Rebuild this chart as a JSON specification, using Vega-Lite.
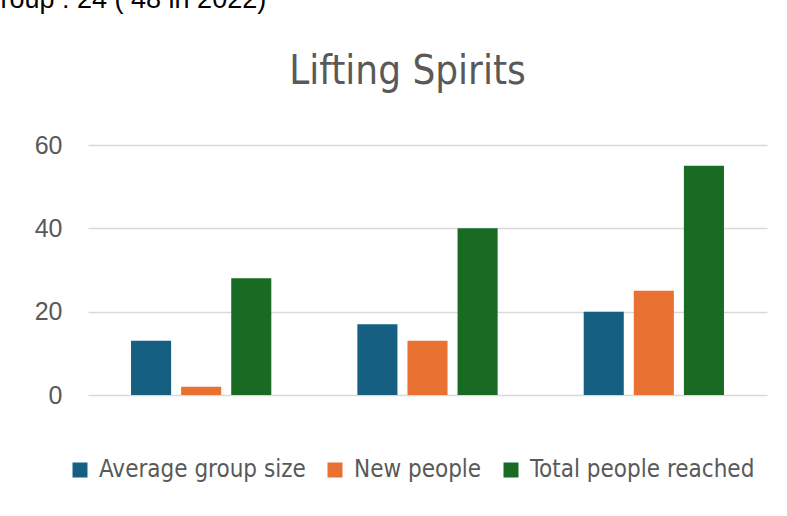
{
  "$schema": "https://vega.github.io/schema/vega-lite/v6.json",
  "autosize": {"type": "none"},
  "width": 679,
  "height": 250,
  "padding": {"left": 88, "top": 145, "right": 20, "bottom": 121},
  "background": "white",
  "title": {
    "text": "Lifting Spirits",
    "anchor": "middle",
    "font": "Liberation Sans Narrow, DejaVu Sans Condensed, Roboto",
    "fontSize": 40,
    "fontWeight": "normal",
    "color": "#595959",
    "baseline": "alphabetic",
    "offset": -139,
    "dx": -20
  },
  "data": {
    "values": [
      {"group": "Group 1", "series": "Average group size", "value": 13},
      {"group": "Group 1", "series": "New people", "value": 2},
      {"group": "Group 1", "series": "Total people reached", "value": 28},
      {"group": "Group 2", "series": "Average group size", "value": 17},
      {"group": "Group 2", "series": "New people", "value": 13},
      {"group": "Group 2", "series": "Total people reached", "value": 40},
      {"group": "Group 3", "series": "Average group size", "value": 20},
      {"group": "Group 3", "series": "New people", "value": 25},
      {"group": "Group 3", "series": "Total people reached", "value": 55}
    ]
  },
  "mark": {"type": "bar"},
  "encoding": {
    "x": {
      "field": "group",
      "type": "nominal",
      "axis": null,
      "scale": {"paddingInner": 0.336, "paddingOuter": 0.168}
    },
    "xOffset": {
      "field": "series",
      "type": "nominal",
      "scale": {"paddingInner": 0.2, "paddingOuter": 0.1}
    },
    "y": {
      "field": "value",
      "type": "quantitative",
      "scale": {"domain": [0, 60], "nice": false},
      "axis": {
        "title": "roup : 24 ( 48 in 2022)",
        "titleAngle": 0,
        "titleX": -88,
        "titleY": -138,
        "titleAlign": "left",
        "titleBaseline": "alphabetic",
        "titleFont": "Liberation Sans",
        "titleFontSize": 27,
        "titleFontWeight": "normal",
        "titleColor": "#000000",
        "values": [0, 20, 40, 60],
        "domain": false,
        "ticks": false,
        "grid": true,
        "gridColor": "#D9D9D9",
        "gridWidth": 1.5,
        "labelFont": "Liberation Sans",
        "labelFontSize": 25,
        "labelColor": "#595959",
        "labelPadding": 26
      }
    },
    "color": {
      "field": "series",
      "type": "nominal",
      "scale": {
        "domain": ["Average group size", "New people", "Total people reached"],
        "range": ["#156082", "#E97132", "#196B24"]
      },
      "legend": {
        "title": null,
        "orient": "none",
        "legendX": -20,
        "legendY": 313,
        "direction": "horizontal",
        "symbolType": "square",
        "symbolSize": 225,
        "symbolStrokeWidth": 0,
        "labelFont": "Liberation Sans Narrow, DejaVu Sans Condensed, Roboto",
        "labelFontSize": 24,
        "labelColor": "#595959",
        "labelLimit": 400,
        "labelOffset": 7,
        "columnPadding": 17
      }
    }
  },
  "config": {"view": {"stroke": null}}
}
